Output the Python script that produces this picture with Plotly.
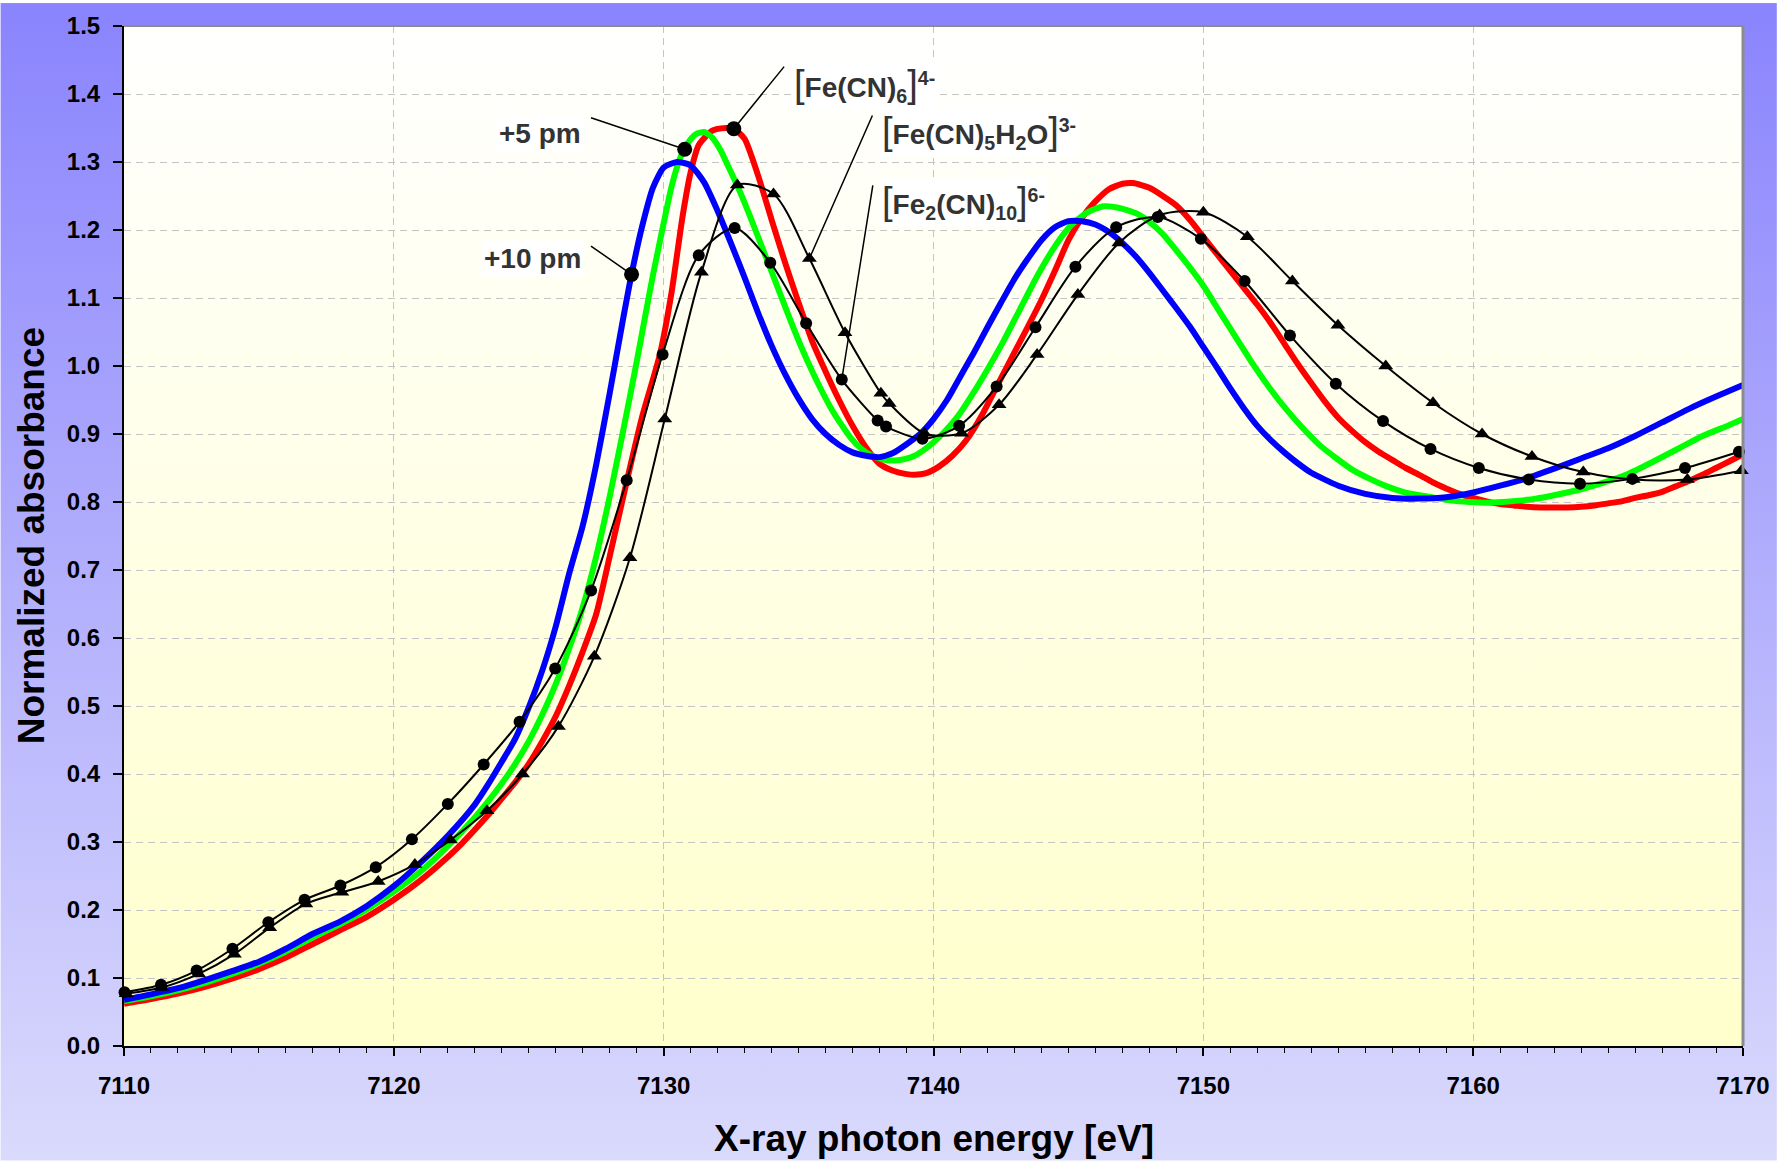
import base64
import numpy as np
import plotly.graph_objects as go

FONT = "Liberation Sans"

# ---------------- data ----------------
# [Fe(CN)6]4- (red)
E_ref = [7110, 7111, 7112, 7113, 7114, 7115, 7116, 7117, 7118, 7119, 7120, 7121, 7122,
         7122.5, 7123, 7123.5, 7124, 7124.5, 7125, 7125.5, 7126, 7126.5, 7127, 7127.5, 7128,
         7128.63, 7129.2, 7129.86, 7130.3, 7130.7, 7131, 7131.3, 7131.8, 7132.3, 7132.6,
         7133, 7133.5, 7134, 7134.5, 7135, 7135.5, 7136, 7136.5, 7137, 7137.5,
         7138, 7138.5, 7139, 7139.3, 7139.7, 7140.2, 7140.7, 7141.2, 7141.8, 7142.34,
         7143, 7143.5, 7144, 7144.5, 7145, 7145.5, 7146, 7146.5, 7147, 7147.4,
         7148, 7148.5, 7149, 7149.5, 7150, 7150.5, 7151, 7151.5, 7152, 7152.5,
         7153, 7153.5, 7154, 7154.5, 7155, 7155.5, 7156, 7156.5, 7157, 7157.5,
         7158, 7158.5, 7159, 7159.5, 7160, 7160.5, 7161, 7161.5, 7162, 7162.5,
         7163, 7163.5, 7164, 7164.5, 7165, 7165.5, 7166, 7166.5, 7167, 7167.5,
         7168, 7168.5, 7169, 7169.5, 7170]
A_ref = [0.062, 0.069, 0.077, 0.087, 0.099, 0.113, 0.130, 0.150, 0.170, 0.190, 0.215, 0.244, 0.278,
         0.297, 0.318, 0.340, 0.364, 0.388, 0.415, 0.448, 0.485, 0.530, 0.580, 0.635, 0.720,
         0.830, 0.925, 1.017, 1.110, 1.220, 1.285, 1.325, 1.346, 1.350, 1.349,
         1.334, 1.280, 1.215, 1.152, 1.093, 1.037, 0.992, 0.950, 0.912, 0.880,
         0.856, 0.846, 0.841, 0.840, 0.842, 0.852, 0.868, 0.890, 0.928, 0.9695,
         1.020, 1.058, 1.097, 1.140, 1.185, 1.218, 1.242, 1.260, 1.268, 1.269,
         1.262, 1.250, 1.236, 1.215, 1.190, 1.165, 1.140, 1.115, 1.090, 1.063,
         1.033, 1.003, 0.975, 0.948, 0.924, 0.905, 0.888, 0.874, 0.862, 0.850,
         0.840, 0.829, 0.820, 0.812, 0.806, 0.801, 0.797, 0.795, 0.793, 0.792,
         0.792, 0.792, 0.793, 0.795, 0.798, 0.801, 0.806, 0.810, 0.815, 0.823,
         0.831, 0.840, 0.850, 0.860, 0.870]

# Fe-C bond lengthened by +5 pm (green)
E_p5 = [7110, 7111, 7112, 7113, 7114, 7115, 7116, 7117, 7118, 7119, 7120, 7121, 7122, 7123,
        7123.5, 7124, 7124.5, 7125, 7125.5, 7126, 7126.5, 7127, 7127.5, 7128, 7128.5, 7129,
        7129.3, 7129.6, 7130, 7130.3, 7130.6, 7130.9, 7131.2, 7131.5, 7131.8, 7132.1, 7132.4, 7132.73,
        7133, 7133.4, 7133.86, 7134.3, 7134.72, 7135.1, 7135.46, 7135.8, 7136.2, 7136.6,
        7136.94, 7137.3, 7137.68, 7138.18, 7138.6, 7138.92, 7139.3, 7139.66, 7140, 7140.4,
        7140.9, 7141.5, 7142, 7142.6, 7143.2, 7143.84, 7144.5, 7145.08, 7145.7, 7146.31,
        7146.8, 7147.2, 7147.54, 7148, 7148.5, 7149, 7149.5, 7150, 7150.6, 7151.24,
        7151.8, 7152.47, 7153.1, 7153.7, 7154.3, 7154.94, 7155.5, 7156.17, 7156.8, 7157.4,
        7158, 7158.63, 7159.2, 7159.86, 7160.5, 7161.1, 7161.7, 7162.33, 7163, 7163.93,
        7164.8, 7165.78, 7166.7, 7167.63, 7168.5, 7169.48, 7170]
A_p5 = [0.066, 0.073, 0.082, 0.093, 0.106, 0.121, 0.139, 0.160, 0.179, 0.201, 0.227, 0.257, 0.294, 0.336,
        0.360, 0.386, 0.415, 0.448, 0.487, 0.532, 0.585, 0.645, 0.720, 0.808, 0.905, 1.006,
        1.070, 1.133, 1.210, 1.265, 1.305, 1.328, 1.341, 1.344, 1.336, 1.318, 1.293, 1.265,
        1.240, 1.200, 1.153, 1.108, 1.065, 1.028, 0.996, 0.968, 0.938, 0.913,
        0.894, 0.879, 0.869, 0.862, 0.861, 0.863, 0.868, 0.877, 0.888, 0.903,
        0.926, 0.962, 0.995, 1.037, 1.083, 1.132, 1.176, 1.206, 1.226, 1.235,
        1.233, 1.229, 1.224, 1.212, 1.194, 1.170, 1.145, 1.118, 1.080, 1.040,
        1.005, 0.967, 0.935, 0.908, 0.884, 0.864, 0.848, 0.834, 0.823, 0.815,
        0.810, 0.806, 0.802, 0.800, 0.799, 0.800, 0.802, 0.805, 0.810, 0.818,
        0.828, 0.842, 0.860, 0.879, 0.897, 0.913, 0.922]

# Fe-C bond lengthened by +10 pm (blue)
E_p10 = [7110, 7111, 7112, 7113, 7114, 7115, 7116, 7117, 7118, 7119, 7120, 7121, 7122, 7123,
         7123.5, 7124, 7124.5, 7125, 7125.5, 7126, 7126.5, 7127, 7127.5, 7128, 7128.5,
         7128.8, 7129.2, 7129.6,
         7130, 7130.5, 7131, 7131.5, 7132, 7132.5, 7133, 7133.5, 7134, 7134.5,
         7135, 7135.5, 7136, 7136.5, 7137, 7137.5, 7138, 7138.5, 7139, 7139.5,
         7140, 7140.5, 7141, 7141.5, 7142, 7142.5, 7143, 7143.5, 7144, 7144.5,
         7145, 7145.5, 7146, 7146.5, 7147, 7147.5, 7148, 7148.5, 7149, 7149.5,
         7150, 7150.5, 7151, 7151.5, 7152, 7152.5, 7153, 7153.5, 7154,
         7155, 7156, 7157, 7158, 7159, 7160, 7161, 7162, 7163, 7164, 7165, 7166, 7167, 7168, 7169, 7170]
A_p10 = [0.068, 0.076, 0.085, 0.097, 0.110, 0.124, 0.143, 0.165, 0.183, 0.206, 0.235, 0.270, 0.309, 0.355,
         0.385, 0.418, 0.452, 0.498, 0.552, 0.617, 0.695, 0.765, 0.855, 0.960, 1.070,
         1.133, 1.205, 1.262,
         1.292, 1.300, 1.295, 1.270, 1.228, 1.180, 1.130, 1.078, 1.030, 0.988,
         0.952, 0.922, 0.900, 0.884, 0.873, 0.868, 0.866, 0.872, 0.885, 0.900,
         0.922, 0.950, 0.985, 1.020, 1.057, 1.093, 1.128, 1.158, 1.185, 1.204,
         1.213, 1.213, 1.208, 1.197, 1.181, 1.161, 1.137, 1.111, 1.085, 1.058,
         1.028, 0.998, 0.967, 0.938, 0.912, 0.891, 0.873, 0.857, 0.843,
         0.824, 0.812, 0.806, 0.805, 0.807, 0.814, 0.824, 0.835, 0.849, 0.864, 0.879, 0.897, 0.917, 0.937, 0.955, 0.972]

# [Fe(CN)5H2O]3- (black, triangles)
E_aq = [7110.08, 7111.41, 7112.77, 7114.09, 7115.40, 7116.74, 7118.07, 7119.42, 7120.78, 7122.10,
        7123.45, 7124.77, 7126.10, 7127.43, 7128.75, 7130.04, 7131.40, 7132.73, 7134.07, 7135.40,
        7136.72, 7138.05, 7138.36, 7139.66, 7141.04, 7142.43, 7143.84, 7145.35, 7146.87, 7148.38,
        7150.00, 7151.63, 7153.30, 7154.99, 7156.76, 7158.51, 7160.33, 7162.18, 7164.08, 7165.93,
        7167.94, 7169.94]
A_aq = [0.077, 0.086, 0.106, 0.135, 0.174, 0.209, 0.226, 0.242, 0.267, 0.303,
        0.346, 0.400, 0.470, 0.573, 0.718, 0.922, 1.138, 1.266, 1.253, 1.158,
        1.049, 0.960, 0.945, 0.901, 0.901, 0.943, 1.017, 1.105, 1.181, 1.222,
        1.226, 1.190, 1.125, 1.060, 1.000, 0.946, 0.900, 0.867, 0.844, 0.833,
        0.833, 0.846]

# [Fe2(CN)10]6- (black, circles)
E_dim = [7110.02, 7111.37, 7112.69, 7114.02, 7115.35, 7116.69, 7118.02, 7119.33, 7120.67, 7122.00,
         7123.33, 7124.66, 7125.98, 7127.31, 7128.63, 7129.96, 7131.30, 7132.63, 7133.95, 7135.28,
         7136.60, 7137.93, 7138.24, 7139.59, 7140.95, 7142.34, 7143.78, 7145.26, 7146.77, 7148.31,
         7149.91, 7151.53, 7153.21, 7154.91, 7156.66, 7158.42, 7160.21, 7162.06, 7163.96, 7165.90,
         7167.85, 7169.85]
A_dim = [0.079, 0.090, 0.111, 0.143, 0.182, 0.215, 0.236, 0.263, 0.304, 0.356,
         0.414, 0.477, 0.555, 0.670, 0.832, 1.017, 1.163, 1.203, 1.152, 1.063,
         0.980, 0.920, 0.911, 0.893, 0.912, 0.970, 1.057, 1.146, 1.204, 1.219,
         1.187, 1.125, 1.045, 0.974, 0.919, 0.878, 0.850, 0.833, 0.827, 0.834,
         0.850, 0.874]

X_RANGE = [7110, 7170]
Y_RANGE = [0, 1.5]
X_TICKS = [7110, 7120, 7130, 7140, 7150, 7160, 7170]

# ---------------- canvas geometry ----------------
W, H = 1782, 1161
ML, MR, MT, MB = 124, 34, 23, 115
PW, PH = W - ML - MR, H - MT - MB


def vgrad(top, bottom):
    svg = ('<svg xmlns="http://www.w3.org/2000/svg" viewBox="0 0 10 100" '
           'preserveAspectRatio="none" width="10" height="100">'
           '<defs><linearGradient id="g" x1="0" y1="0" x2="0" y2="1">'
           f'<stop offset="0" stop-color="{top}"/><stop offset="1" stop-color="{bottom}"/>'
           '</linearGradient></defs><rect width="10" height="100" fill="url(#g)"/></svg>')
    return "data:image/svg+xml;base64," + base64.b64encode(svg.encode()).decode()


def paper_y(py):
    """pixel row (from top of canvas) -> paper y coordinate"""
    return (MT + PH - py) / PH


def paper_x(px):
    return (px - ML) / PW


fig = go.Figure()

for ex, ay, col in [(E_ref, A_ref, "#ff0000"), (E_p5, A_p5, "#00ff00"), (E_p10, A_p10, "#0000ff")]:
    fig.add_trace(go.Scatter(x=ex, y=ay, mode="lines", hoverinfo="skip",
                             line=dict(color=col, width=6, shape="spline", smoothing=0.6)))

fig.add_trace(go.Scatter(x=E_aq, y=A_aq, mode="lines+markers", hoverinfo="skip", cliponaxis=False,
                         line=dict(color="black", width=2, shape="spline", smoothing=0.8),
                         marker=dict(symbol="triangle-up", size=13, color="black")))
fig.add_trace(go.Scatter(x=E_dim, y=A_dim, mode="lines+markers", hoverinfo="skip", cliponaxis=False,
                         line=dict(color="black", width=2, shape="spline", smoothing=0.8),
                         marker=dict(symbol="circle", size=12, color="black")))

axis_font = dict(family=FONT, size=24, color="black", weight="bold")
grid = dict(showgrid=True, gridcolor="#c4c4c4", gridwidth=1, griddash="7px,5px")

fig.update_xaxes(range=X_RANGE, tickvals=X_TICKS, ticks="outside", ticklen=8, tickwidth=1.5,
                 tickcolor="black", showline=True, linecolor="black", linewidth=2,
                 zeroline=False, tickfont=axis_font, ticklabelstandoff=9,
                 minor=dict(dtick=1, tick0=7110, ticks="outside", ticklen=5, tickwidth=1.2,
                            tickcolor="black", showgrid=False),
                 **grid)
fig.update_yaxes(range=Y_RANGE, dtick=0.1, tick0=0, tickformat=".1f", ticks="outside", ticklen=9,
                 tickwidth=1.5, tickcolor="black", showline=True, linecolor="black", linewidth=2,
                 zeroline=False, tickfont=axis_font, ticklabelstandoff=8, **grid)

# label / leader geometry
lab_font = dict(family=FONT, size=28, color="#333333", weight="bold")
BR = '<span style="font-size:38px;font-weight:normal">{}</span>'
label_ref = BR.format("[") + "Fe(CN)<sub>6</sub>" + BR.format("]") + "<sup>4-</sup>"
label_aq = BR.format("[") + "Fe(CN)<sub>5</sub>H<sub>2</sub>O" + BR.format("]") + "<sup>3-</sup>"
label_dim = BR.format("[") + "Fe<sub>2</sub>(CN)<sub>10</sub>" + BR.format("]") + "<sup>6-</sup>"

annotations = [
    dict(text="+5 pm", x=7127.04, y=1.342, xanchor="right", yanchor="middle"),
    dict(text="+10 pm", x=7127.04, y=1.158, xanchor="right", yanchor="middle"),
    dict(text=label_ref, x=7134.72, y=1.4135, xanchor="left", yanchor="middle"),
    dict(text=label_aq, x=7137.97, y=1.3437, xanchor="left", yanchor="middle"),
    dict(text=label_dim, x=7137.97, y=1.2417, xanchor="left", yanchor="middle"),
]
annotations = [dict(a, xref="x", yref="y", showarrow=False, font=lab_font,
                    bgcolor="white", borderpad=2) for a in annotations]

# leader lines: tail (label side) -> tip on the curve
tip_p5 = 7130.78
tip_p10 = 7128.81
tip_ref = 7132.6
leaders = [
    (7127.25, 1.3658, tip_p5, float(np.interp(tip_p5, E_p5, A_p5)), 6),
    (7127.25, 1.1779, tip_p10, float(np.interp(tip_p10, E_p10, A_p10)), 6),
    (7134.51, 1.4425, tip_ref, float(np.interp(tip_ref, E_ref, A_ref)), 6),
    (7137.76, 1.3706, E_aq[19], A_aq[19], 0),
    (7137.76, 1.2679, E_dim[20], A_dim[20], 0),
]
for tx, ty, px, py, head in leaders:
    annotations.append(dict(x=px, y=py, ax=tx, ay=ty, xref="x", yref="y", axref="x", ayref="y",
                            text="", showarrow=True, arrowhead=head, arrowsize=2.5,
                            arrowwidth=1.5, arrowcolor="black", standoff=0))

title_font = dict(family=FONT, size=37, color="black", weight="bold")
annotations.append(dict(text="X-ray photon energy [eV]", xref="paper", yref="paper",
                        x=0.5, y=paper_y(1139), xanchor="center", yanchor="middle",
                        showarrow=False, font=title_font))
annotations.append(dict(text="Normalized absorbance", xref="paper", yref="paper",
                        x=paper_x(31), y=0.5, xanchor="center", yanchor="middle",
                        textangle=-90, showarrow=False, font=title_font))

images = [
    dict(source=vgrad("#8a84fd", "#dadafc"), xref="paper", yref="paper",
         x=-ML / PW, y=1 + MT / PH, sizex=W / PW, sizey=H / PH,
         xanchor="left", yanchor="top", sizing="stretch", layer="below"),
    dict(source=vgrad("#ffffff", "#ffffcc"), xref="paper", yref="paper",
         x=0, y=1, sizex=1, sizey=1, xanchor="left", yanchor="top",
         sizing="stretch", layer="below"),
]

shapes = [
    dict(type="line", xref="paper", yref="paper", x0=0, x1=1, y0=1, y1=1,
         line=dict(color="#8c8c8c", width=2)),
    dict(type="line", xref="paper", yref="paper", x0=1, x1=1, y0=0, y1=1,
         line=dict(color="#8c8c8c", width=3)),
]

fig.update_layout(
    width=W, height=H, autosize=False,
    margin=dict(l=ML, r=MR, t=MT, b=MB, pad=0),
    paper_bgcolor="rgba(0,0,0,0)", plot_bgcolor="rgba(0,0,0,0)",
    showlegend=False, annotations=annotations, images=images, shapes=shapes,
    font=dict(family=FONT),
)

fig.write_html("out.html")
